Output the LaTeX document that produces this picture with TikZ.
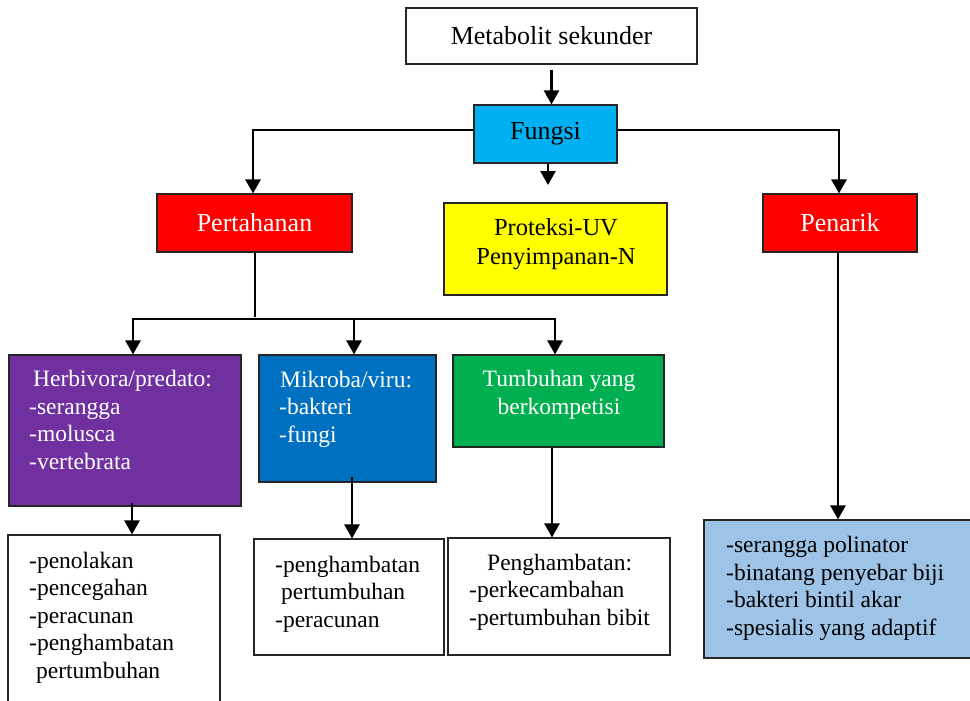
\documentclass[tikz,border=0pt]{standalone}
\usepackage{fontspec}
\setmainfont{Liberation Serif}
\usetikzlibrary{arrows.meta}
\definecolor{cfungsi}{HTML}{00B0F0}
\definecolor{cred}{HTML}{FF0000}
\definecolor{cyellow}{HTML}{FFFF00}
\definecolor{cpurple}{HTML}{7030A0}
\definecolor{cblue}{HTML}{0070C0}
\definecolor{cgreen}{HTML}{00B050}
\definecolor{clight}{HTML}{9DC3E6}
\begin{document}
\begin{tikzpicture}[x=1pt,y=-1pt,
  box/.style={draw=black!85, line width=1.1pt, inner sep=0pt, anchor=center},
  big/.style={font=\fontsize{26}{29}\selectfont, align=center},
  mid/.style={font=\fontsize{24.5}{29}\selectfont, align=center, inner sep=0pt},
  txt/.style={font=\fontsize{23.5}{27.5}\selectfont, inner sep=0pt, align=left, anchor=base west},
  arr/.style={line width=2.6pt, -{Triangle[width=15pt,length=14pt]}},
  link/.style={line width=2pt},
  thinlink/.style={line width=1.5pt},
  bar/.style={line width=2.8pt}]
\clip (0,0) rectangle (970,701);

% boxes
\node[box, minimum width=291pt, minimum height=56pt, big] (meta) at (551.5,36) {Metabolit sekunder};
\node[box, fill=cfungsi, minimum width=143pt, minimum height=58pt, big] (fungsi) at (545.5,134) {Fungsi};
\node[box, fill=cred, text=white, minimum width=195pt, minimum height=58pt, big] (pert) at (254.5,223) {Pertahanan};
\node[box, fill=cyellow, minimum width=223pt, minimum height=92pt] (yel) at (555.5,249) {};
\node[box, fill=cred, text=white, minimum width=154pt, minimum height=58pt, big] (pen) at (840,223) {Penarik};

\node[box, fill=cpurple, minimum width=232pt, minimum height=151pt] (herb) at (125,430.5) {};
\node[box, fill=cblue, minimum width=177pt, minimum height=127pt] (mik) at (347.5,418.5) {};
\node[box, fill=cgreen, minimum width=211pt, minimum height=92pt] (tum) at (558.5,401) {};

\node[box, fill=white, minimum width=212pt, minimum height=185pt] (w1) at (114,627.5) {};
\node[box, fill=white, minimum width=190pt, minimum height=116pt] (w2) at (349,597) {};
\node[box, fill=white, minimum width=222pt, minimum height=117pt] (w3) at (559,596.5) {};
\node[box, fill=clight, minimum width=281pt, minimum height=138pt] (lb) at (844.5,589) {};

% box texts (a multi-line node sits on the baseline of its last line)
\node[mid] (yelt) at (556,244) {Proteksi-UV\\Penyimpanan-N};
\node[txt, text=white] (herbt) at (29,469) {\hspace*{4pt}Herbivora/predato:\\-serangga\\-molusca\\-vertebrata};
\node[txt, text=white] (mikt) at (279,442) {\hspace*{1pt}Mikroba/viru:\\-bakteri\\-fungi};
\node[txt, text=white, align=center, anchor=base] (tumt) at (559,414) {Tumbuhan yang\\berkompetisi};
\node[txt] (w1t) at (29,678) {-penolakan\\-pencegahan\\-peracunan\\-penghambatan\\\hspace*{7pt}pertumbuhan};
\node[txt] (w2t) at (275,627) {-penghambatan\\\hspace*{6pt}pertumbuhan\\-peracunan};
\node[txt] (w3t) at (469,625) {\hspace*{18pt}Penghambatan:\\-perkecambahan\\-pertumbuhan bibit};
\node[txt] (lbt) at (726,635) {-serangga polinator\\-binatang penyebar biji\\-bakteri bintil akar\\-spesialis yang adaptif};

% connectors
\coordinate (stub) at (548,185);
\coordinate (pj) at (255,317);
\coordinate (b1) at (133,319);
\coordinate (b2) at (354,319);
\coordinate (b3) at (555,319);

\draw[arr] ([yshift=-5pt]meta.south) -- (meta.south |- fungsi.north);
\draw[arr] (fungsi.south -| stub) -- (stub);
\draw[link, arr] ([yshift=4pt]fungsi.west) -| ([xshift=-1.5pt]pert.north);
\draw[link, arr] ([yshift=4pt]fungsi.east) -| ([xshift=-1pt]pen.north);

\draw[thinlink] (pert.south -| pj) -- (pj);
\draw[bar] ([xshift=-1.4pt]b1) -- ([xshift=1.4pt]b3);
\draw[arr] (b1) -- (b1 |- herb.north);
\draw[arr] (b2) -- (b2 |- mik.north);
\draw[arr] (b3) -- (b3 |- tum.north);

\draw[arr] ([xshift=7pt,yshift=4pt]herb.south) -- ([xshift=7pt]herb.south |- w1.north);
\draw[arr] ([xshift=4.5pt,yshift=6pt]mik.south) -- ([xshift=4.5pt]mik.south |- w2.north);
\draw[arr] ([xshift=-6.5pt]tum.south) -- ([xshift=-6.5pt]tum.south |- w3.north);
\draw[arr] ([xshift=-2pt]pen.south) -- ([xshift=-2pt]pen.south |- lb.north);
\end{tikzpicture}
\end{document}
